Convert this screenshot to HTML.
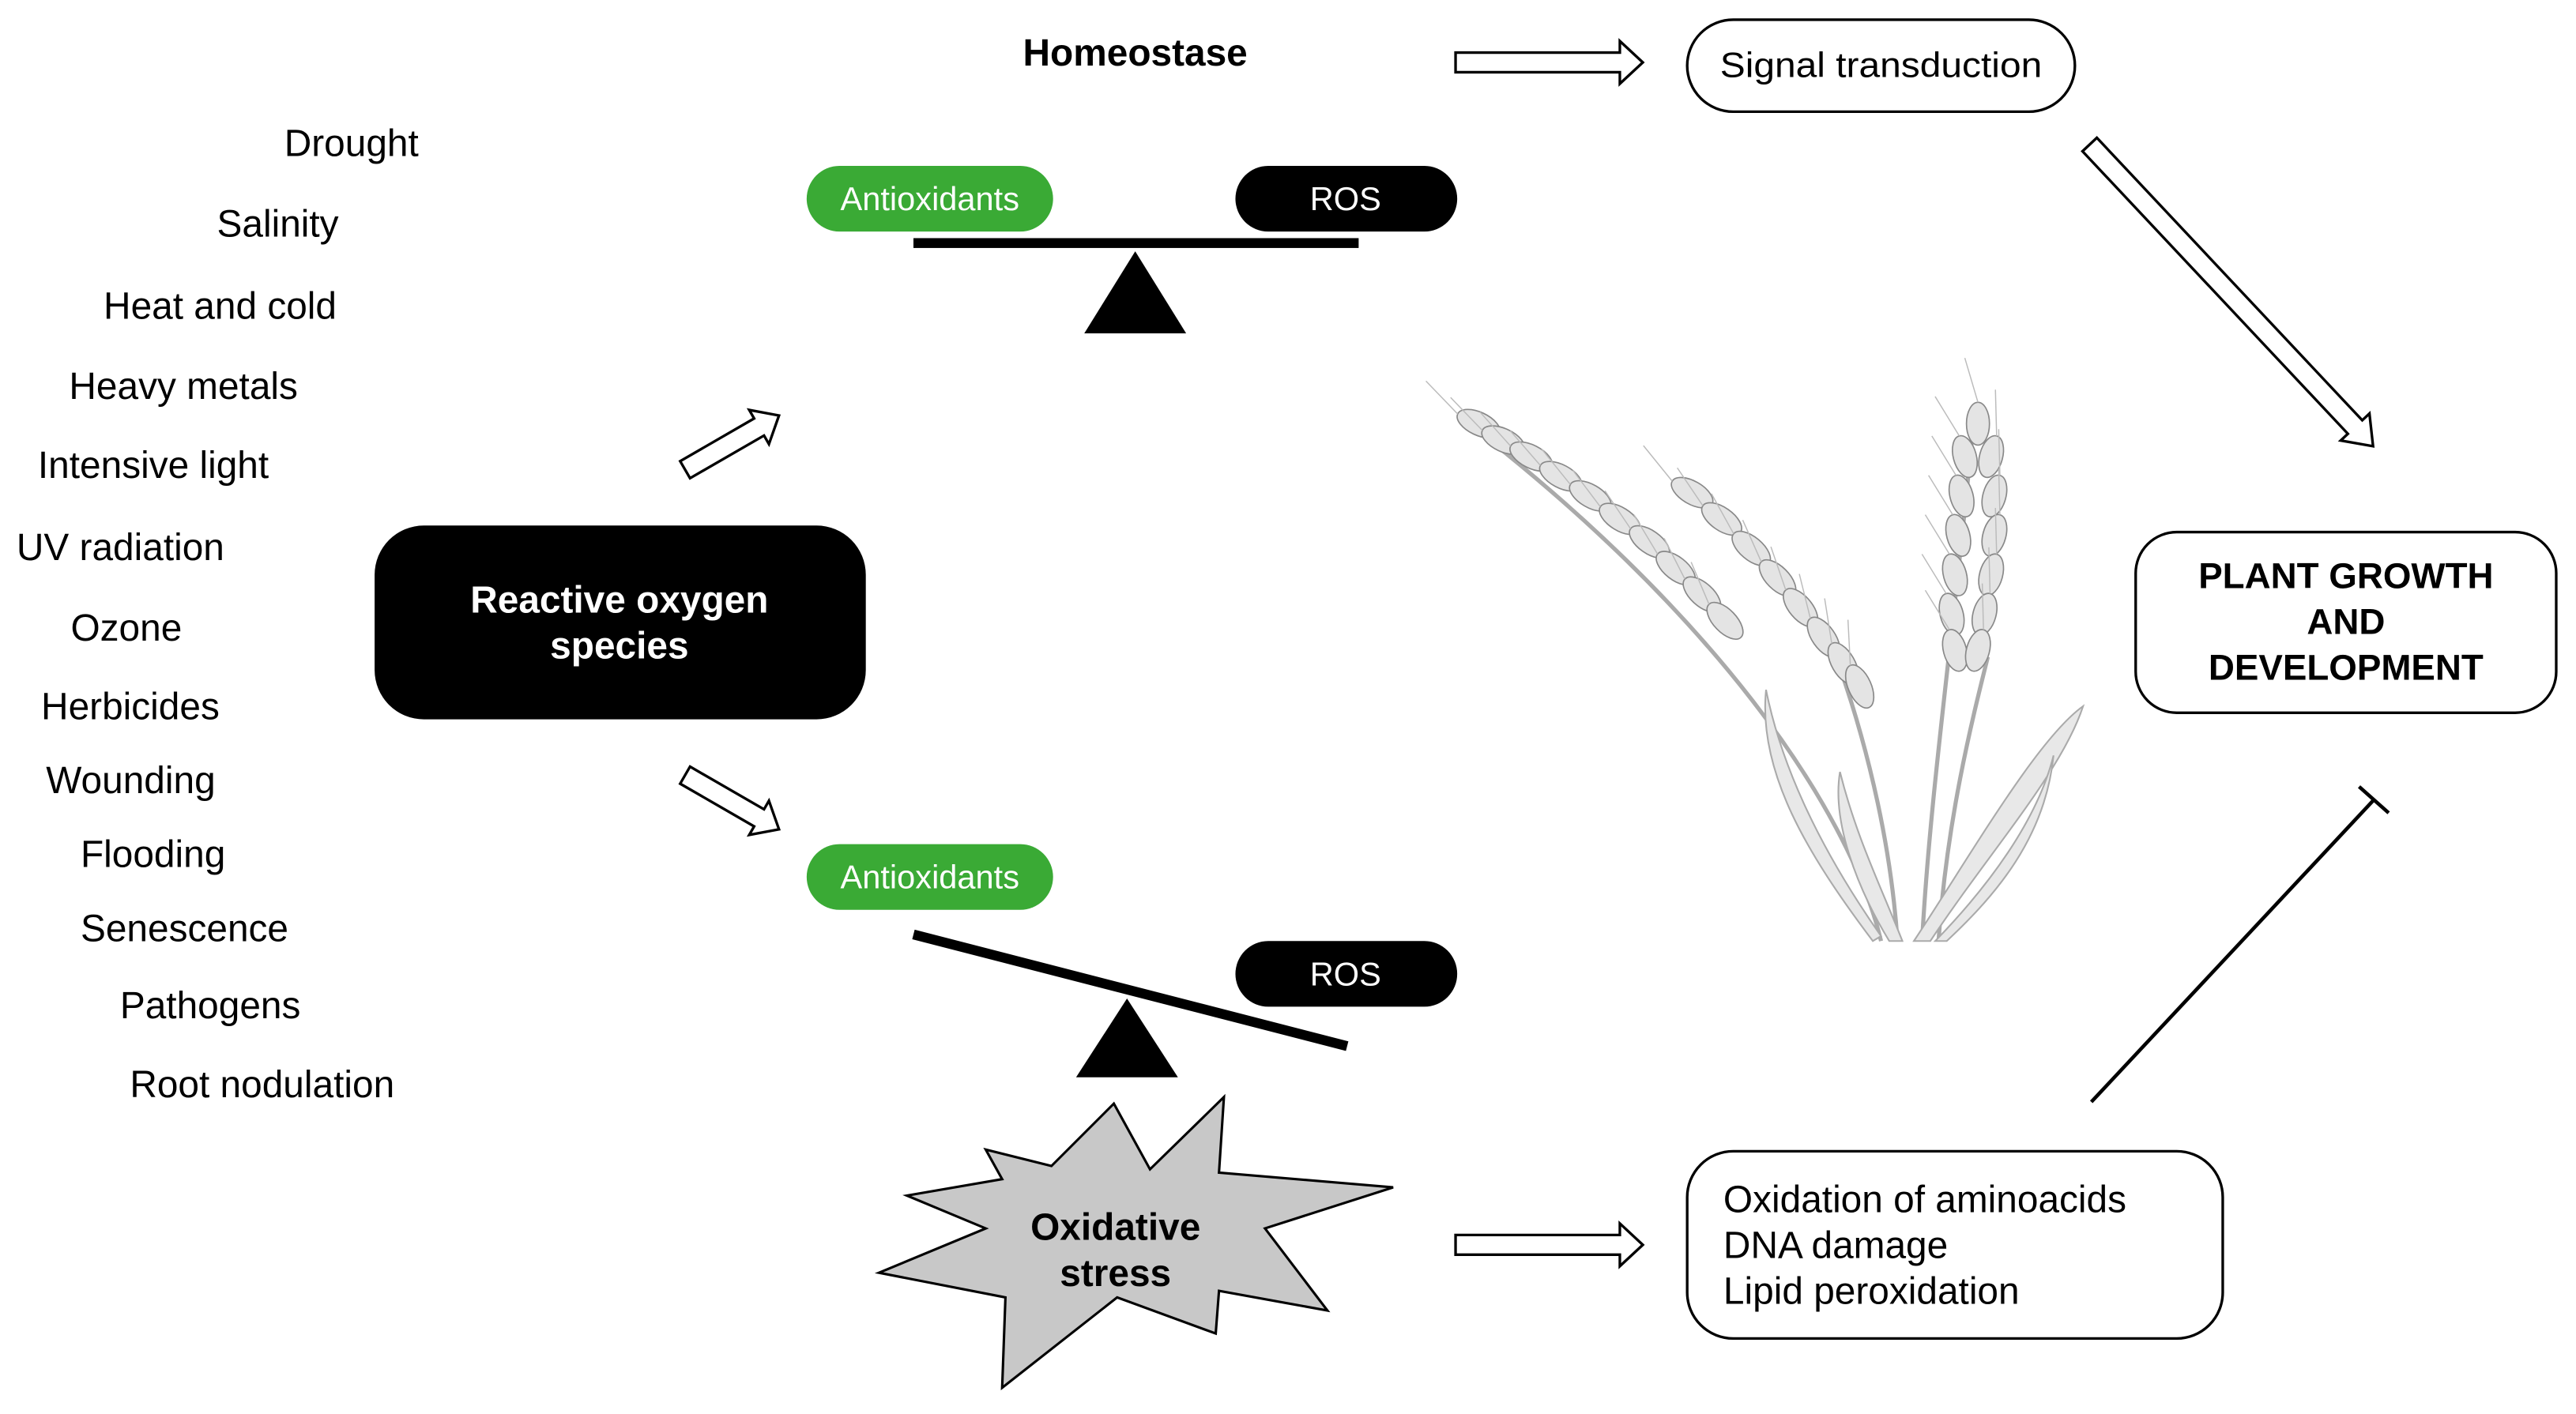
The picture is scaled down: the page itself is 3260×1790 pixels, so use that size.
<!DOCTYPE html>
<html><head><meta charset="utf-8"><style>
html,body{margin:0;padding:0;background:#fff;}
svg{display:block;}
text{font-family:"Liberation Sans",Arial,sans-serif;}
</style></head><body>
<svg width="3260" height="1790" viewBox="0 0 1568 861" xmlns="http://www.w3.org/2000/svg">
<defs>
<g id="harrow"><polygon points="0,-6 100,-6 100,-13 114,0 100,13 100,6 0,6" fill="#fff" stroke="#000" stroke-width="1.6"/></g>
<g id="sarrow"><polygon points="0,-6 52,-6 52,-12 66,0 52,12 52,6 0,6" fill="#fff" stroke="#000" stroke-width="1.6"/></g>
<g id="grain"><ellipse cx="0" cy="0" rx="14" ry="7" fill="#e4e4e4" stroke="#888" stroke-width="0.8"/><line x1="-14" y1="0" x2="-40" y2="-10" stroke="#bbb" stroke-width="0.7"/></g>
<g id="vgrain"><ellipse cx="0" cy="0" rx="7" ry="13" fill="#e4e4e4" stroke="#888" stroke-width="0.8"/><line x1="0" y1="-13" x2="-8" y2="-40" stroke="#bbb" stroke-width="0.7"/></g>
</defs>
<rect width="1568" height="861" fill="#fff"/>

<text x="691" y="40" font-size="23" font-weight="bold" text-anchor="middle">Homeostase</text>
<use href="#harrow" transform="translate(886,38)"/>
<rect x="1027" y="12" width="236" height="56" rx="28" fill="#fff" stroke="#000" stroke-width="1.6"/>
<text x="1145" y="47" font-size="21.5" text-anchor="middle" textLength="196" lengthAdjust="spacingAndGlyphs">Signal transduction</text>

<g transform="translate(1272,88) rotate(46.8)"><polygon points="0,-6 236,-6 236,-12 252,0 236,12 236,6 0,6" fill="#fff" stroke="#000" stroke-width="1.6"/></g>

<rect x="1300" y="324" width="256" height="110" rx="25" fill="#fff" stroke="#000" stroke-width="1.6"/>
<g font-size="22" font-weight="bold" text-anchor="middle">
<text x="1428" y="358">PLANT GROWTH</text><text x="1428" y="386">AND</text><text x="1428" y="414">DEVELOPMENT</text></g>

<g font-size="23">
<text x="173" y="95">Drought</text>
<text x="132" y="144">Salinity</text>
<text x="63" y="194">Heat and cold</text>
<text x="42" y="243">Heavy  metals</text>
<text x="23" y="291">Intensive light</text>
<text x="10" y="341">UV radiation</text>
<text x="43" y="390">Ozone</text>
<text x="25" y="438">Herbicides</text>
<text x="28" y="483">Wounding</text>
<text x="49" y="528">Flooding</text>
<text x="49" y="573">Senescence</text>
<text x="73" y="620">Pathogens</text>
<text x="79" y="668">Root nodulation</text>
</g>

<rect x="228" y="320" width="299" height="118" rx="30" fill="#000"/>
<g font-size="23" font-weight="bold" fill="#fff" text-anchor="middle">
<text x="377" y="373">Reactive oxygen</text><text x="377" y="401">species</text></g>

<use href="#sarrow" transform="translate(417,286) rotate(-30)"/>
<use href="#sarrow" transform="translate(417,472) rotate(30)"/>

<rect x="491" y="101" width="150" height="40" rx="20" fill="#3aaa35"/>
<text x="566" y="128" font-size="20" fill="#fff" text-anchor="middle">Antioxidants</text>
<rect x="752" y="101" width="135" height="40" rx="20" fill="#000"/>
<text x="819" y="128" font-size="20" fill="#fff" text-anchor="middle">ROS</text>
<rect x="556" y="145" width="271" height="6" fill="#000"/>
<polygon points="691,153 660,203 722,203" fill="#000"/>

<rect x="491" y="514" width="150" height="40" rx="20" fill="#3aaa35"/>
<text x="566" y="541" font-size="20" fill="#fff" text-anchor="middle">Antioxidants</text>
<rect x="752" y="573" width="135" height="40" rx="20" fill="#000"/>
<text x="819" y="600" font-size="20" fill="#fff" text-anchor="middle">ROS</text>
<line x1="556" y1="569" x2="820" y2="637" stroke="#000" stroke-width="6"/>
<polygon points="686,608 655,656 717,656" fill="#000"/>

<polygon points="678,672 700,712 745,668 742,714 848,723 770,748 808,798 742,786 740,812 680,790 610,845 612,790 535,775 600,748 552,728 610,718 600,700 640,710" fill="#c8c8c8" stroke="#000" stroke-width="1.5"/>
<g font-size="23" font-weight="bold" text-anchor="middle"><text x="679" y="755">Oxidative</text><text x="679" y="783">stress</text></g>

<use href="#harrow" transform="translate(886,758)"/>
<rect x="1027" y="701" width="326" height="114" rx="28" fill="#fff" stroke="#000" stroke-width="1.6"/>
<g font-size="23"><text x="1049" y="738">Oxidation of aminoacids</text><text x="1049" y="766">DNA damage</text><text x="1049" y="794">Lipid peroxidation</text></g>

<line x1="1273" y1="671" x2="1445" y2="487" stroke="#000" stroke-width="2.2"/>
<line x1="1436" y1="479" x2="1454" y2="495" stroke="#000" stroke-width="2.2"/>

<!-- wheat -->
<g fill="none" stroke="#aaa" stroke-width="2.5">
<path d="M1145,573 C1125,490 1040,370 890,255"/>
<path d="M1155,573 C1150,500 1130,430 1110,380"/>
<path d="M1170,573 C1175,480 1190,380 1202,250"/>
<path d="M1180,573 C1185,500 1200,440 1210,400"/>
</g>
<g fill="#e8e8e8" stroke="#aaa" stroke-width="1">
<path d="M1140,573 C1100,520 1070,470 1075,420 C1085,470 1110,520 1145,570Z"/>
<path d="M1165,573 C1200,520 1240,450 1268,430 C1255,470 1210,520 1175,573Z"/>
<path d="M1150,573 C1130,540 1115,500 1120,470 C1130,510 1145,540 1158,573Z"/>
<path d="M1178,573 C1210,540 1240,500 1250,460 C1245,510 1215,545 1185,573Z"/>
</g>
<g>
<use href="#grain" transform="translate(900,258) rotate(25)"/>
<use href="#grain" transform="translate(915,268) rotate(25)"/>
<use href="#grain" transform="translate(932,278) rotate(27)"/>
<use href="#grain" transform="translate(950,290) rotate(28)"/>
<use href="#grain" transform="translate(968,302) rotate(30)"/>
<use href="#grain" transform="translate(986,316) rotate(32)"/>
<use href="#grain" transform="translate(1004,330) rotate(35)"/>
<use href="#grain" transform="translate(1020,346) rotate(38)"/>
<use href="#grain" transform="translate(1036,362) rotate(42)"/>
<use href="#grain" transform="translate(1050,378) rotate(46)"/>
<use href="#grain" transform="translate(1030,300) rotate(30)"/>
<use href="#grain" transform="translate(1048,316) rotate(35)"/>
<use href="#grain" transform="translate(1066,334) rotate(40)"/>
<use href="#grain" transform="translate(1082,352) rotate(45)"/>
<use href="#grain" transform="translate(1096,370) rotate(50)"/>
<use href="#grain" transform="translate(1110,388) rotate(55)"/>
<use href="#grain" transform="translate(1122,404) rotate(60)"/>
<use href="#grain" transform="translate(1132,418) rotate(66)"/>
<use href="#vgrain" transform="translate(1204,258)"/>
<use href="#vgrain" transform="translate(1196,278) rotate(-15)"/>
<use href="#vgrain" transform="translate(1212,278) rotate(15)"/>
<use href="#vgrain" transform="translate(1194,302) rotate(-15)"/>
<use href="#vgrain" transform="translate(1214,302) rotate(15)"/>
<use href="#vgrain" transform="translate(1192,326) rotate(-15)"/>
<use href="#vgrain" transform="translate(1214,326) rotate(15)"/>
<use href="#vgrain" transform="translate(1190,350) rotate(-15)"/>
<use href="#vgrain" transform="translate(1212,350) rotate(15)"/>
<use href="#vgrain" transform="translate(1188,374) rotate(-15)"/>
<use href="#vgrain" transform="translate(1208,374) rotate(15)"/>
<use href="#vgrain" transform="translate(1190,396) rotate(-15)"/>
<use href="#vgrain" transform="translate(1204,396) rotate(15)"/>
</g>
</svg>
</body></html>
